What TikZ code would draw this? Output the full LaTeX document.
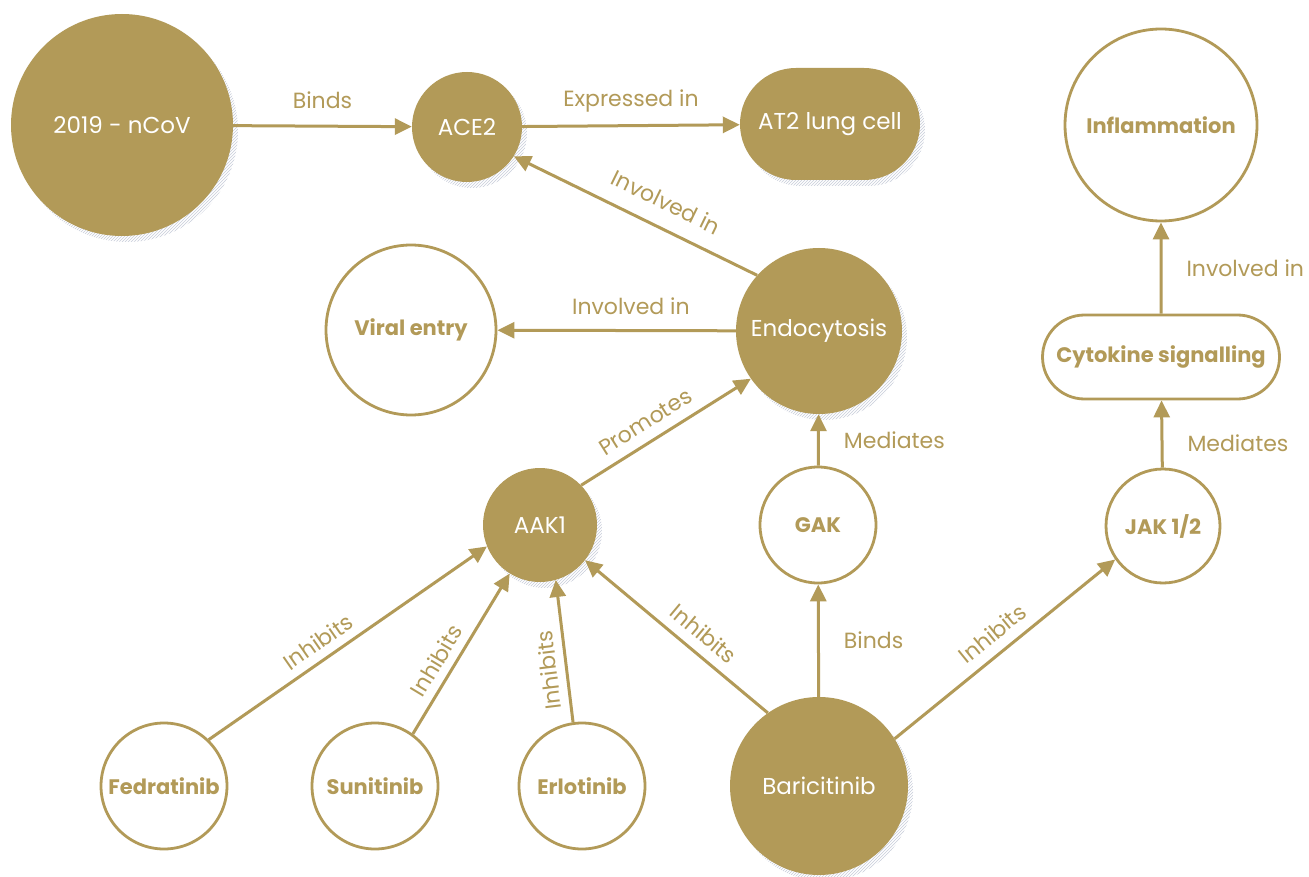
\documentclass[tikz,border=0pt]{standalone}
\usepackage{fontspec}
\setmainfont{Poppins}
\usetikzlibrary{arrows.meta,shapes.misc,shadows,patterns}
\definecolor{gold}{RGB}{178,154,88}
\definecolor{hatch}{RGB}{200,205,218}
\begin{document}
\begin{tikzpicture}[x=1pt,y=-1pt,
  hatchshadow/.style={general shadow={shadow xshift=5pt, shadow yshift=-6pt, pattern=north east lines, pattern color=hatch}},
  fillnode/.style={circle, fill=gold, text=white, font=\fontsize{23}{27}\selectfont, inner sep=0pt, hatchshadow},
  opennode/.style={circle, draw=gold, line width=2.8pt, fill=white, text=gold, font=\bfseries\fontsize{21}{25}\selectfont, inner sep=0pt},
  link/.style={draw=gold, line width=3pt, -{Triangle[length=17pt,width=16pt]}},
  lbl/.style={text=gold, font=\fontsize{22}{26}\selectfont, inner sep=2pt},
]
\fill[white] (0,0) rectangle (1309,877);
\useasboundingbox (0,0) rectangle (1309,877);

\node[fillnode, minimum size=222pt] (ncov) at (122,125) {2019 - nCoV};
\node[fillnode, minimum size=110pt] (ace2) at (467,127) {ACE2};
\node[fillnode, rounded rectangle, minimum width=180pt, minimum height=112pt] (at2) at (830,124) {AT2 lung cell};
\node[opennode, minimum size=192pt] (infl) at (1161,125) {Inflammation};
\node[opennode, rounded rectangle, minimum width=237pt, minimum height=84pt] (cyto) at (1161,357) {Cytokine signalling};
\node[opennode, minimum size=114pt] (jak) at (1163,526) {JAK 1/2};
\node[fillnode, minimum size=166pt] (endo) at (819,331) {Endocytosis};
\node[opennode, minimum size=170pt] (viral) at (411,330) {Viral entry};
\node[fillnode, minimum size=114pt] (aak1) at (540,525) {AAK1};
\node[opennode, minimum size=116pt] (gak) at (818,525) {GAK};
\node[fillnode, minimum size=178pt] (bari) at (819,786) {Baricitinib};
\node[opennode, minimum size=126pt] (fed) at (164,786) {Fedratinib};
\node[opennode, minimum size=126pt] (suni) at (375,786) {Sunitinib};
\node[opennode, minimum size=126pt] (erlo) at (582,786) {Erlotinib};

\draw[link] (ncov) -- node[lbl, above=14pt] {Binds} (ace2);
\draw[link] (ace2) -- node[lbl, above=10pt] {Expressed in} (at2);
\draw[link] (endo.138) -- node[lbl, sloped, above=14pt, pos=0.42] {Involved in} (ace2.-32);
\draw[link] (endo) -- node[lbl, above=12pt, pos=0.44] {Involved in} (viral);
\draw[link] (aak1.44) -- node[lbl, sloped, above=8pt, pos=0.44] {Promotes} (endo.215);
\draw[link] (gak) -- node[lbl, right=22pt] {Mediates} (endo);
\draw[link] (bari) -- node[lbl, right=22pt] {Binds} (gak);
\draw[link] (bari.125) -- node[lbl, sloped, above=8pt, pos=0.42] {Inhibits} (aak1.-38);
\draw[link] (bari.32) -- node[lbl, sloped, above=8pt, pos=0.5] {Inhibits} (jak.215);
\draw[link] (jak) -- node[lbl, right=22pt, pos=0.36] {Mediates} (cyto);
\draw[link] (cyto) -- node[lbl, right=22pt] {Involved in} (infl);
\draw[link] (fed.46) -- node[lbl, sloped, above=6pt, pos=0.43] {Inhibits} (aak1.202);
\draw[link] (suni.54) -- node[lbl, sloped, above=6pt, pos=0.4] {Inhibits} (aak1.238);
\draw[link] (erlo.98) -- node[lbl, sloped, allow upside down, above=6pt, pos=0.38] {Inhibits} (aak1.286);
\end{tikzpicture}
\end{document}
